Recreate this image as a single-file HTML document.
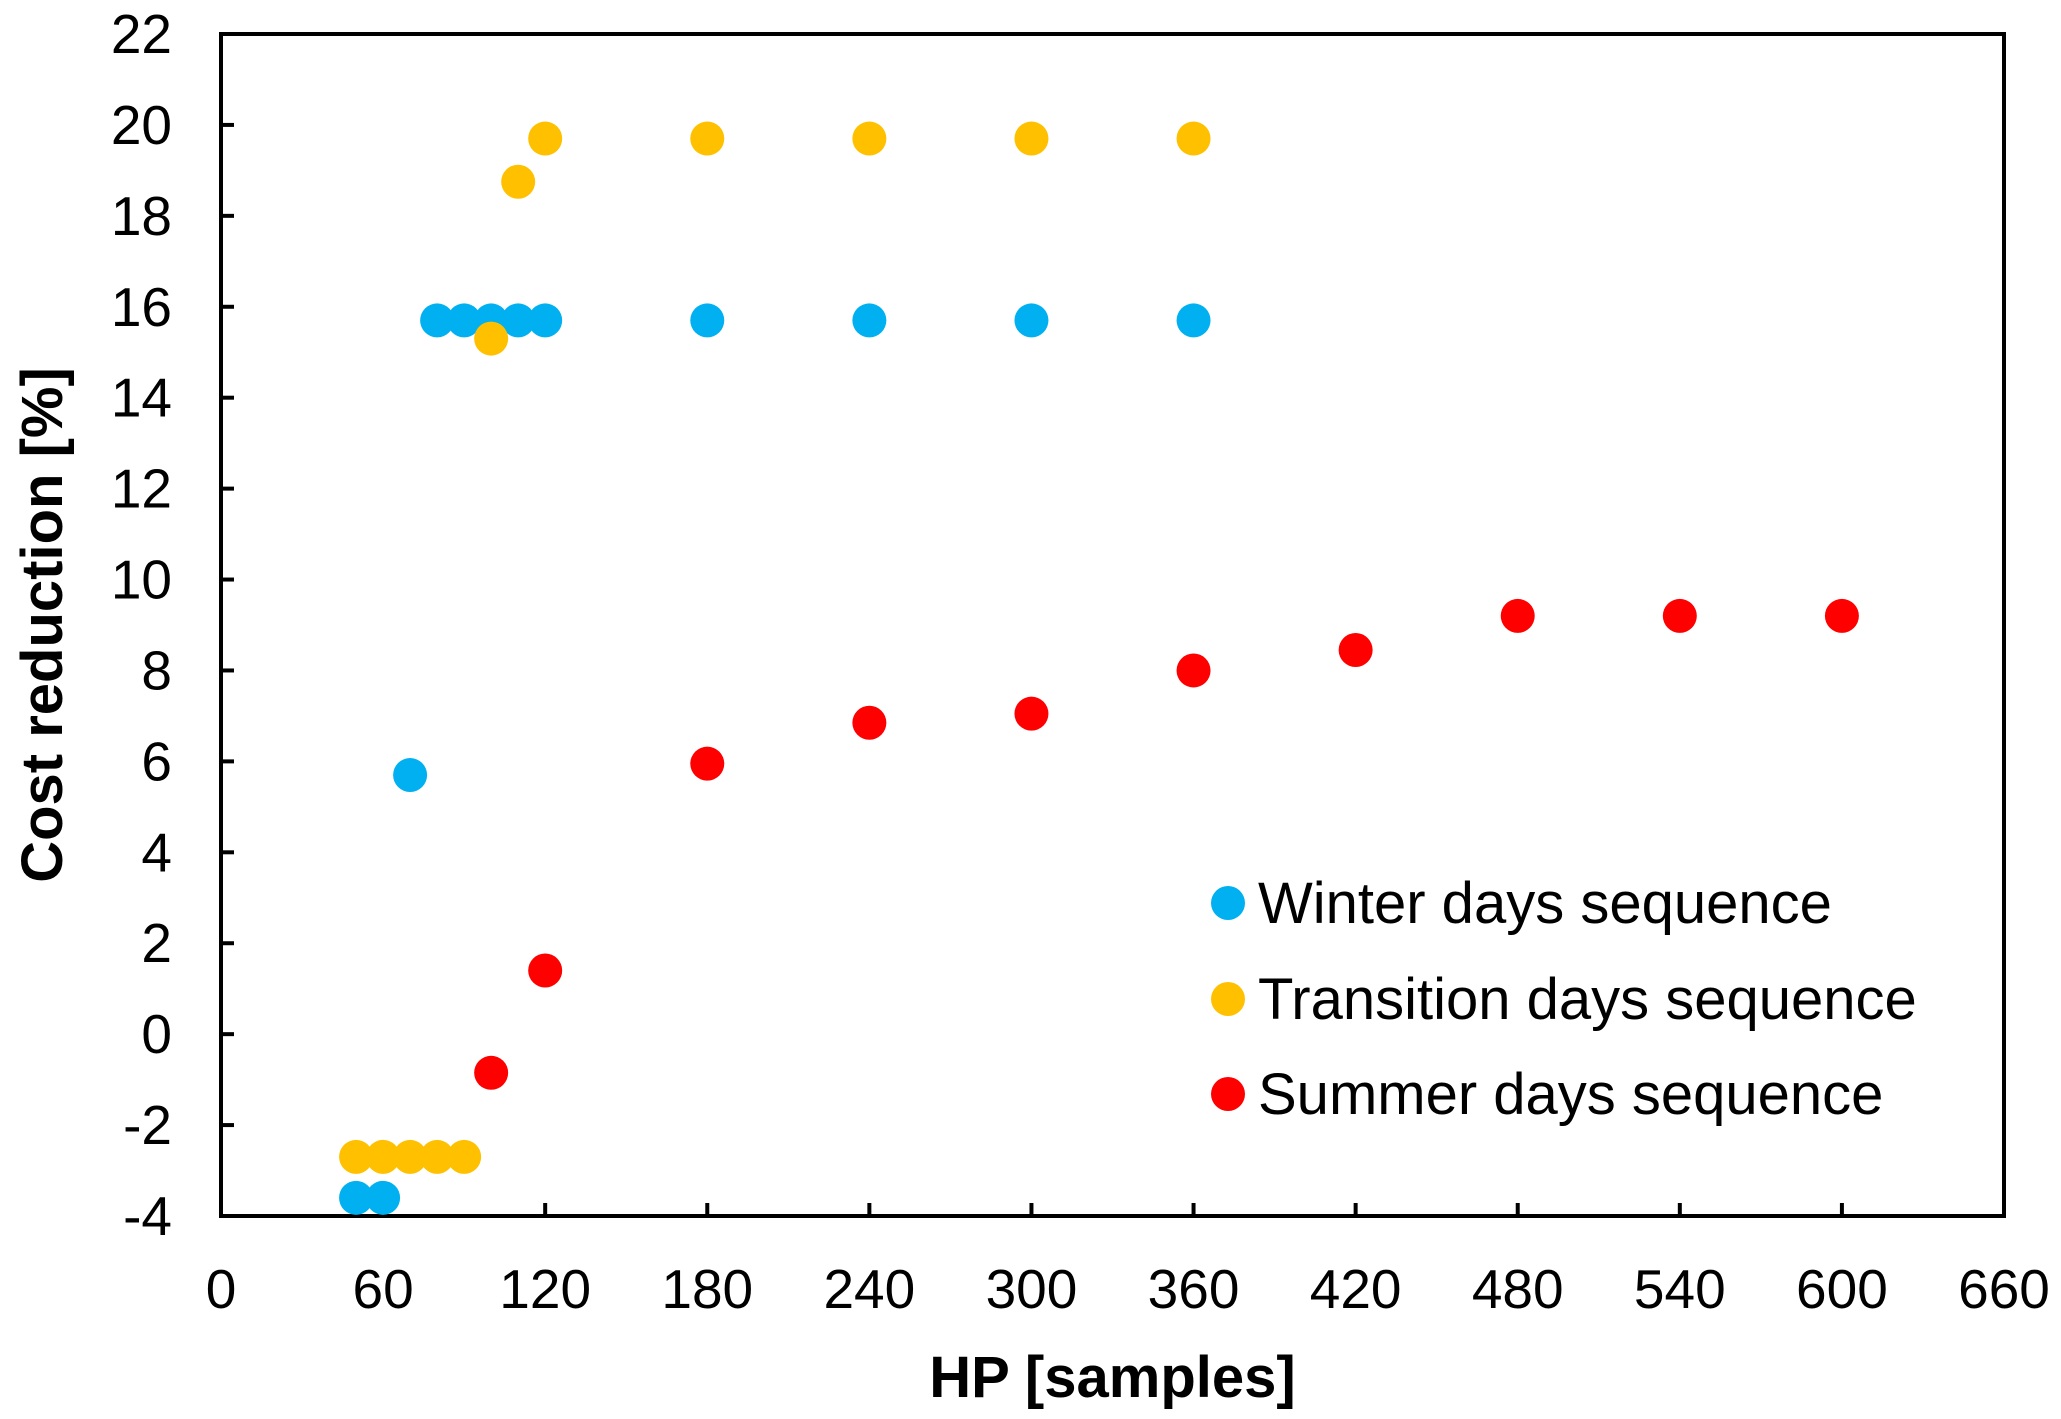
<!DOCTYPE html>
<html><head><meta charset="utf-8"><style>html,body{margin:0;padding:0;background:#fff}svg{display:block}text{font-family:"Liberation Sans",Arial,sans-serif}</style></head>
<body>
<svg id="chart" width="2061" height="1419" xmlns="http://www.w3.org/2000/svg"></svg>
<script>
const xTicks=[0,60,120,180,240,300,360,420,480,540,600,660];
const yTicks=[-4,-2,0,2,4,6,8,10,12,14,16,18,20,22];
const winterX=[50,60,70,80,90,100,110,120,180,240,300,360];
const winterY=[-3.6,-3.6,5.7,15.7,15.7,15.7,15.7,15.7,15.7,15.7,15.7,15.7];
const transX=[50,60,70,80,90,100,110,120,180,240,300,360];
const transY=[-2.7,-2.7,-2.7,-2.7,-2.7,15.3,18.75,19.7,19.7,19.7,19.7,19.7];
const summerX=[100,120,180,240,300,360,420,480,540,600];
const summerY=[-0.85,1.4,5.95,6.85,7.05,8.0,8.45,9.2,9.2,9.2];
const seriesNames=["Winter days sequence","Transition days sequence","Summer days sequence"];

const L=221,R=2004,T=34,B=1216;
const xs=v=>L+(v-0)/(660-0)*(R-L);
const ys=v=>B-(v+4)/(22+4)*(B-T);
const svg=document.getElementById('chart');
const NS='http://www.w3.org/2000/svg';
function mk(tag,attrs,parent){const e=document.createElementNS(NS,tag);for(const k in attrs)e.setAttribute(k,attrs[k]);(parent||svg).appendChild(e);return e;}

const frame=mk('rect',{x:L,y:T,width:R-L,height:B-T,fill:'none',stroke:'#000','stroke-width':4});



xTicks.forEach(v=>{
  const t=mk('line',{x1:xs(v),x2:xs(v),y1:B,y2:B-13,stroke:'#000','stroke-width':4});
  
  
  const l=mk('text',{x:xs(v),y:1308,'font-size':55,'text-anchor':'middle'});
  l.textContent=v;
  
  
});
yTicks.forEach(v=>{
  const t=mk('line',{x1:L,x2:L+13,y1:ys(v),y2:ys(v),stroke:'#000','stroke-width':4});
  
  
  const l=mk('text',{x:172,y:ys(v)+19,'font-size':55,'text-anchor':'end'});
  l.textContent=v;
  
  
});

const xt=mk('text',{x:(L+R)/2,y:1397,'font-size':58,'font-weight':'bold','text-anchor':'middle'});
xt.textContent='HP [samples]';


const yt=mk('text',{x:0,y:0,'font-size':58,'font-weight':'bold','text-anchor':'middle',transform:'translate(62,625) rotate(-90)'});
yt.textContent='Cost reduction [%]';



const series=[[winterX,winterY,'#00B0F0','winter'],[transX,transY,'#FFC000','transition'],[summerX,summerY,'#FF0000','summer']];
series.forEach(([X,Y,c,n])=>{
  X.forEach((x,i)=>{
    const p=mk('circle',{cx:xs(x),cy:ys(Y[i]),r:17,fill:c});
    
    
  });
});

const legY=[903,999,1094];
series.forEach(([X,Y,c,n],i)=>{
  const m=mk('circle',{cx:1228,cy:legY[i],r:17,fill:c});
  
  
  const t=mk('text',{x:1258,y:legY[i]+20,'font-size':58});
  t.textContent=seriesNames[i];
  
  
});
</script>
</body></html>
